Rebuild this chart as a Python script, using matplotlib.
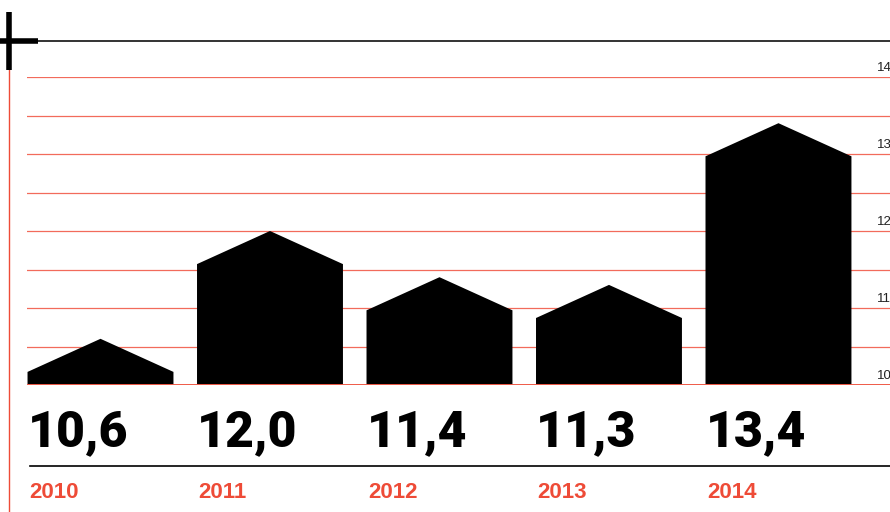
import matplotlib
matplotlib.use("Agg")
import matplotlib.pyplot as plt
from matplotlib.patches import Polygon
from matplotlib.lines import Line2D
from matplotlib.transforms import blended_transform_factory
import numpy as np

years = ["2010", "2011", "2012", "2013", "2014"]
values = [10.6, 12.0, 11.4, 11.3, 13.4]
value_labels = ["10,6", "12,0", "11,4", "11,3", "13,4"]
y_ticks = [10, 11, 12, 13, 14]

RED = "#ee4b37"
GRID = "#f26b5b"
W, H = 890, 512

fig = plt.figure(figsize=(W / 100, H / 100), dpi=100)
ax = fig.add_axes([27 / W, (H - 385) / H, 1 - 27 / W, (385 - 77) / H])
ax.set_xlim(-0.4336, 4.658)
ax.set_ylim(10, 14)
ax.axis("off")

# grid every half unit
for g in np.arange(10.5, 14.01, 0.5):
    ax.axhline(g, color=GRID, lw=0.9, zorder=0)
ax.axhline(10, color=RED, lw=2.0, zorder=3)

bar_w = 0.861
roof = 0.43
for i, v in enumerate(values):
    l, r = i - bar_w / 2, i + bar_w / 2
    pts = [(l, 10.01), (l, v - roof), (i, v), (r, v - roof), (r, 10.01)]
    ax.add_patch(Polygon(pts, closed=True, facecolor="black", edgecolor="none", zorder=2))

trans = blended_transform_factory(ax.transData, ax.transAxes)
for i, (lab, yr) in enumerate(zip(value_labels, years)):
    x = i - bar_w / 2
    ax.text(x, -0.155, lab, transform=trans, ha="left", va="center",
            fontsize=36, fontweight="black", family="Roboto", color="black",
            clip_on=False)
    ax.text(x + 0.01, -0.348, yr, transform=trans, ha="left", va="center",
            fontsize=16, fontweight="bold", family="Liberation Sans", color=RED,
            clip_on=False)

# right-side scale labels
ytrans = blended_transform_factory(fig.transFigure, ax.transData)
for t in y_ticks:
    fig.text(877 / W, t + 0.04, str(t), transform=ytrans, ha="left", va="bottom",
             fontsize=9.5, family="Liberation Sans", color="#222222")

def fline(x0, y0, x1, y1, **kw):
    fig.add_artist(Line2D([x0 / W, x1 / W], [1 - y0 / H, 1 - y1 / H],
                          transform=fig.transFigure, **kw))

# frame rules
fline(38, 41, W, 41, color="#333333", lw=1.4)
fline(30, 466, W, 466, color="black", lw=1.2)
fline(8.5, 70, 8.5, H, color=RED, lw=1.0)
# corner cross
fline(8.5, 12, 8.5, 70, color="black", lw=4.0, solid_capstyle="butt")
fline(0, 41, 38, 41, color="black", lw=4.0, solid_capstyle="butt")

fig.savefig("out.png", dpi=100)
